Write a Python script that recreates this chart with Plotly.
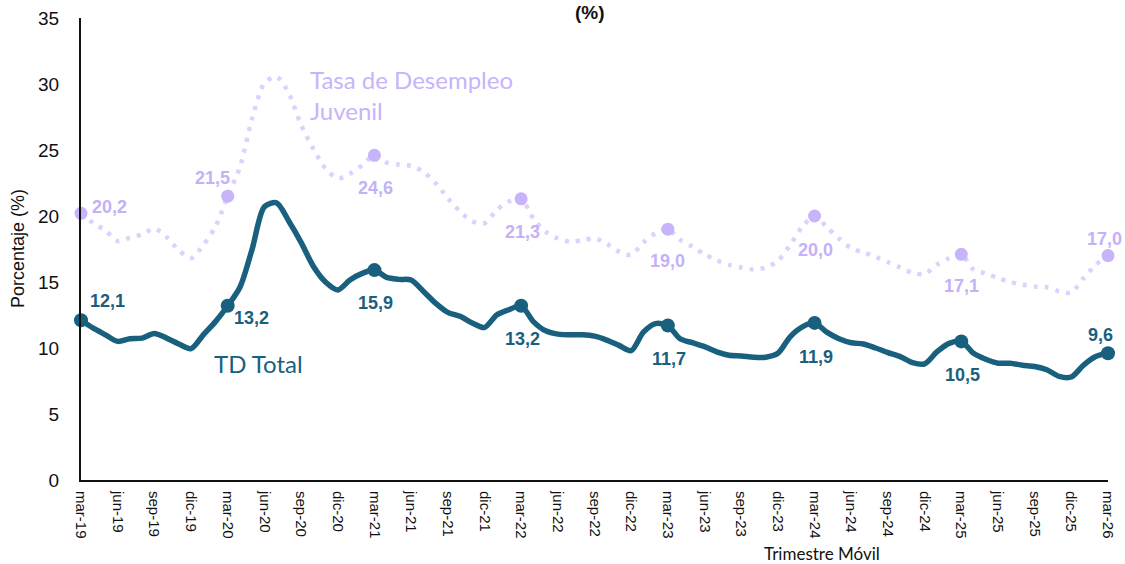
import plotly.graph_objects as go

# ---------------- data ----------------
month_abbr = ["mar", "abr", "may", "jun", "jul", "ago", "sep", "oct", "nov", "dic", "ene", "feb"]
periods = []
for i in range(85):
    m = month_abbr[i % 12]
    yr = 19 + (i + 2) // 12
    periods.append(f"{m}-{yr:02d}")

td_total = [
    12.1, 11.5, 11.0, 10.5, 10.7, 10.75, 11.1, 10.75, 10.3, 9.95, 11.0, 12.0,
    13.2, 14.6, 17.5, 20.7, 21.0, 19.6, 18.0, 16.2, 15.0, 14.4, 15.15, 15.65,
    15.9, 15.35, 15.2, 15.15, 14.3, 13.4, 12.7, 12.4, 11.9, 11.55, 12.5, 12.9,
    13.2, 12.0, 11.3, 11.05, 11.0, 11.0, 10.9, 10.6, 10.2, 9.8, 11.2, 11.85,
    11.7, 10.7, 10.4, 10.1, 9.7, 9.45, 9.4, 9.3, 9.3, 9.6, 10.85, 11.6,
    11.9, 11.2, 10.7, 10.4, 10.3, 10.0, 9.65, 9.35, 8.9, 8.8, 9.7, 10.35,
    10.5, 9.6, 9.15, 8.85, 8.85, 8.7, 8.6, 8.35, 7.85, 7.8, 8.7, 9.35,
    9.6,
]

td_juvenil = [
    20.2, 19.45, 18.9, 18.1, 18.35, 18.6, 19.05, 18.4, 17.4, 16.8, 17.8, 19.2,
    21.5, 23.7, 27.4, 30.05, 30.55, 29.3, 26.9, 25.1, 23.6, 22.85, 23.2, 23.85,
    24.6, 24.05, 23.9, 23.8, 23.35, 22.5, 21.35, 20.35, 19.6, 19.45, 20.45, 21.1,
    21.3, 19.8, 18.8, 18.3, 18.05, 18.15, 18.3, 17.9, 17.3, 17.05, 18.0, 18.7,
    19.0, 18.2, 17.7, 17.1, 16.65, 16.3, 16.1, 15.95, 16.1, 16.6, 17.8, 19.2,
    20.0, 19.15, 18.3, 17.55, 17.25, 16.9, 16.5, 16.1, 15.7, 15.6, 16.3, 16.8,
    17.1, 15.95, 15.65, 15.3, 15.0, 14.8, 14.65, 14.6, 14.3, 14.2, 15.3, 16.3,
    17.0,
]

highlight_idx = [0, 12, 24, 36, 48, 60, 72, 84]
tick_idx = list(range(0, 85, 3))
tick_text = [periods[i] for i in tick_idx]

# ---------------- styles ----------------
TEAL = "#19607f"
PURPLE_MK = "#c7b4fb"
PURPLE_LINE = "#ddd1fd"
PURPLE_TXT = "#c4b1f8"
ARIAL = "Liberation Sans, Arial, sans-serif"
CAL = "Lato, Carlito, sans-serif"

# label offsets (xshift, yshift) per highlighted point
td_shift = [(26, 19), (24, -12), (1, -33), (1, -33), (1, -33), (1, -34), (1, -34), (-8, 18)]
tj_shift = [(28, 6), (-15, 18), (1, -33), (1, -33), (0, -32), (1, -34), (0, -32), (-4, 17)]

x = list(range(len(periods)))

fig = go.Figure()

fig.add_trace(go.Scatter(
    x=x, y=td_juvenil, mode="lines",
    line=dict(color=PURPLE_LINE, width=4.5, dash="4px,7px", shape="spline", smoothing=0.8),
    hoverinfo="skip", showlegend=False, cliponaxis=False,
))
fig.add_trace(go.Scatter(
    x=highlight_idx, y=[td_juvenil[i] for i in highlight_idx], mode="markers",
    marker=dict(color=PURPLE_MK, size=13),
    showlegend=False, cliponaxis=False,
))
fig.add_trace(go.Scatter(
    x=x, y=td_total, mode="lines",
    line=dict(color=TEAL, width=5.5, shape="spline", smoothing=0.8),
    hoverinfo="skip", showlegend=False, cliponaxis=False,
))
fig.add_trace(go.Scatter(
    x=highlight_idx, y=[td_total[i] for i in highlight_idx], mode="markers",
    marker=dict(color=TEAL, size=14),
    showlegend=False, cliponaxis=False,
))

annotations = []
for k, i in enumerate(highlight_idx):
    v = td_total[i]
    annotations.append(dict(
        x=i, y=v, xref="x", yref="y", showarrow=False,
        xanchor="center", yanchor="middle",
        text=f"{v:.1f}".replace(".", ","),
        font=dict(family=ARIAL, size=18, color=TEAL, weight="bold"),
        xshift=td_shift[k][0], yshift=td_shift[k][1],
    ))
    v = td_juvenil[i]
    annotations.append(dict(
        x=i, y=v, xref="x", yref="y", showarrow=False,
        xanchor="center", yanchor="middle",
        text=f"{v:.1f}".replace(".", ","),
        font=dict(family=ARIAL, size=18, color=PURPLE_TXT, weight="bold"),
        xshift=tj_shift[k][0], yshift=tj_shift[k][1],
    ))

# series name labels
annotations.append(dict(
    x=10.7, y=8.8, xref="x", yref="y", showarrow=False, xanchor="left", yanchor="middle",
    text="TD Total", font=dict(family=CAL, size=24, color=TEAL),
))
annotations.append(dict(
    x=18.6, y=29.2, xref="x", yref="y", showarrow=False, xanchor="left", yanchor="middle",
    align="left", text="Tasa de Desempleo<br>Juvenil",
    font=dict(family=CAL, size=24, color=PURPLE_MK),
))
# axis titles
annotations.append(dict(
    x=-0.0613, y=0.5, xref="paper", yref="paper", showarrow=False, textangle=-90,
    xanchor="center", yanchor="middle",
    text="Porcentaje (%)", font=dict(family=ARIAL, size=18, color="#111111"),
))
annotations.append(dict(
    x=60.6, y=-0.1645, xref="x", yref="paper", showarrow=False,
    xanchor="center", yanchor="middle", yshift=2,
    text="Trimestre Móvil", font=dict(family=CAL, size=17, color="#111111"),
))
# title remnant
annotations.append(dict(
    x=0.4956, y=1.0, xref="paper", yref="paper", showarrow=False,
    xanchor="center", yanchor="middle", yshift=6,
    text="<b>(%)</b>", font=dict(family=ARIAL, size=19, color="#111111"),
))
# source note (mostly cut off at the bottom, as in the original)
annotations.append(dict(
    x=-0.062, y=-0.178, xref="paper", yref="paper", showarrow=False,
    xanchor="left", yanchor="top",
    text="Fuente: DANE – Gran Encuesta Integrada de Hogares. Elaboración: propia",
    font=dict(family=CAL, size=14, color="#444444"),
))

fig.update_layout(
    width=1125, height=564,
    margin=dict(l=81, r=17, t=18, b=84, autoexpand=False),
    paper_bgcolor="white", plot_bgcolor="white",
    annotations=annotations,
    showlegend=False,
)
fig.update_xaxes(
    range=[0, 84], tickmode="array", tickvals=tick_idx, ticktext=tick_text,
    tickangle=90, showgrid=False, zeroline=False, automargin=False,
    showline=True, linecolor="#111111", linewidth=2,
    ticks="", tickfont=dict(family=ARIAL, size=15, color="#111111"),
    ticklabelstandoff=6,
)
fig.update_yaxes(
    range=[0, 35], tickvals=[0, 5, 10, 15, 20, 25, 30, 35],
    showgrid=False, zeroline=False, automargin=False,
    showline=True, linecolor="#111111", linewidth=2,
    ticks="", tickfont=dict(family=ARIAL, size=19, color="#111111"),
    ticklabelstandoff=16, ticklabeloverflow="allow",
)

# remove the default 8px page margin so the figure fills the window exactly
fig.write_html(
    "out.html",
    config={"displayModeBar": False},
    post_script="document.body.style.margin='0';",
)
